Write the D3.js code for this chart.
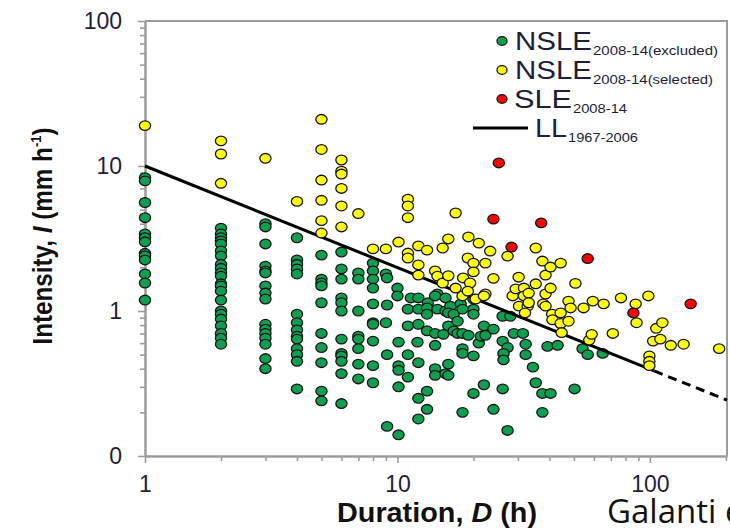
<!DOCTYPE html>
<html>
<head>
<meta charset="utf-8">
<script src="https://cdn.jsdelivr.net/npm/d3@7"></script>
<style>
  body { margin: 0; background: #fff; }
  text { font-family: "Liberation Sans", Arial, sans-serif; }
</style>
</head>
<body>
<svg id="chart" width="730" height="530"></svg>
<script>
// ---- data: [duration D (h), intensity I (mm/h)] ----
const excluded = [
  [1,8.3],[1,7.9],[1,5.6],[1,4.4],[1,3.4],[1,3.2],[1,3.0],[1,2.5],[1,2.4],[1,2.25],[1,1.8],[1,1.56],[1,1.19],
  [2,3.73],[2,3.4],[2,3.2],[2,3.04],[2,2.9],[2,2.6],[2,2.4],[2,2.1],[2,1.97],[2,1.83],[2,1.74],[2,1.54],[2,1.49],[2,1.37],[2,1.19],[2,1.0],[2,0.95],[2,0.88],[2,0.79],[2,0.7],[2,0.65],[2,0.59],
  [3,4.0],[3,3.8],[3,2.9],[3,2.04],[3,1.89],[3,1.83],[3,1.49],[3,1.33],[3,1.21],[3,0.81],[3,0.75],[3,0.7],[3,0.65],[3,0.59],[3,0.47],[3,0.4],
  [4,3.2],[4,2.25],[4,2.1],[4,1.95],[4,1.8],[4,0.95],[4,0.83],[4,0.74],[4,0.67],[4,0.64],[4,0.55],[4,0.5],[4,0.45],[4,0.29],
  [5,2.43],[5,1.66],[5,1.56],[5,1.49],[5,1.14],[5,0.7],[5,0.56],[5,0.44],[5,0.28],[5,0.24],
  [6,2.55],[6,1.95],[6,1.66],[6,1.23],[6,1.14],[6,1.0],[6,0.64],[6,0.51],[6,0.49],[6,0.45],[6,0.37],[6,0.23],
  [7,1.83],[7,1.66],[7,1.0],[7,0.67],[7,0.64],[7,0.55],[7,0.43],[7,0.34],
  [8,2.14],[8,1.89],[8,1.66],[8,1.44],[8,1.12],[8,0.83],[8,0.81],[8,0.62],[8,0.42],[8,0.32],
  [9,1.8],[9.1,1.69],[9.1,1.1],[9,0.83],[9.1,0.5],[9.1,0.16],
  [10,1.44],[10,1.27],[10.1,0.61],[10.1,0.42],[10.1,0.39],[10.1,0.3],[10.1,0.14],
  [11.3,1.23],[11,1.03],[11,0.79],[11,0.5],[11,0.35],
  [12.1,1.23],[12.1,1.03],[12.1,0.81],[12,0.61],[12.1,0.44],[12.1,0.25],[12.1,0.18],
  [13.2,1.14],[13.1,1.05],[13.1,0.95],[13.1,0.73],[13.1,0.28],[13.1,0.21],
  [14.4,1.31],[14.1,1.27],[14.4,1.03],[14.1,0.7],[14.1,0.58],[14.1,0.4],[14.1,0.36],
  [15.5,1.23],[15.5,1.0],[15.2,0.69],[15.5,0.37],
  [16.2,1.08],[15.9,0.97],[15.9,0.79],[15.9,0.43],[15.9,0.36],[16.7,0.95],[16.7,0.73],
  [17.8,1.12],[17.3,0.85],[17.3,0.7],
  [18.1,1.03],[18.1,0.7],[18.1,0.55],[18.1,0.51],[18.1,0.2],
  [19.1,0.68],[20,1.21],[20,1.03],[20,0.95],[20,0.49],[20,0.27],
  [21,0.6],[21.4,0.67],[22,0.79],[22.3,0.68],[22,0.31],[24,0.75],[24,0.21],
  [26.1,0.92],[28,0.92],[26.1,0.62],[27.3,0.56],[26.3,0.51],[26.3,0.46],[26.1,0.29],[27.3,0.15],[28.9,0.7],[31.4,0.7],[32.2,0.59],[32.2,0.5],
  [34.4,0.41],[35.3,0.32],[37.5,0.27],[40.4,0.27],[37.5,0.2],[39.3,0.57],[43.1,0.58],[50.3,0.29],[54.1,0.55],[56.7,0.5],[65,0.51]
];

const selected = [
  [1,19],[2,14.9],[2,12.1],[2,7.6],[3,11.3],[4,5.7],
  [5,21],[5,13],[5,8.0],[5,5.8],[5,4.2],[5,3.45],
  [6,11.0],[6,9.2],[6,8.8],[6,7.0],[6,5.3],[6,3.8],[7,4.7],
  [8,2.68],[9,2.68],[10.1,2.99],
  [11,5.9],[11,5.3],[11,4.4],[11,2.51],[11,2.32],
  [12.1,2.81],[12.1,2.08],[12.1,1.77],[13.1,2.63],[14.1,1.89],[14.4,1.74],
  [15.1,2.72],[15.1,1.56],[15.9,3.14],[15.9,1.75],[17,4.74],[17,1.44],[18.2,1.69],[18.1,1.27],
  [19.1,3.24],[19,2.32],[19.4,1.56],[19,1.37],[20,2.14],[20,1.86],[20.4,1.21],[21,2.94],
  [22.3,2.14],[22.3,1.31],[22,1.27],[23.3,2.59],[24,1.68],[27.3,2.39],
  [28.6,1.27],[29.4,1.42],[30.2,1.71],[30.3,1.08],[31.7,1.44],[31.7,1.27],[32.8,1.08],[33.1,1.33],[33.1,1.14],[32,0.97],
  [35.3,2.72],[35.3,1.54],[37.5,2.21],[37.8,1.12],[38.6,1.77],[38.6,1.31],[38.6,1.08],[40.4,2.01],[40.4,1.44],
  [41,0.95],[44.3,0.97],[41.1,0.87],[44.3,0.82],[47.6,0.85],[44.7,0.71],[44.3,2.14],
  [47.6,1.17],[48.5,1.05],[50.7,1.55],[54.6,1.05],[57.5,0.63],[58.8,0.69],[59.4,1.17],[65.6,1.12],[71.3,0.7],[76.8,1.23],
  [87.8,1.12],[88.5,0.83],[98.6,1.27],[99.5,0.49],[99.5,0.45],[99.5,0.42],[103,0.62],[106,0.76],[110,0.64],[112,0.83],[121,0.58],[136,0.59],[188,0.55]
];

const sle = [[25.2,10.5],[24,4.3],[37.1,4.05],[28.3,2.76],[56.7,2.3],[86,0.97],[145,1.12]];

// LL1967-2006 threshold, solid over its calibration range then dashed
const llSolid = [[1,10],[104,0.386]];
const llDashed = [[104,0.386],[202,0.243]];

const xTicks = [1, 10, 100];
const xTickLabels = ["1", "10", "100"];
const yTicks = [0.1, 1, 10, 100];
const yTickLabels = ["0", "1", "10", "100"];

const legendNames = ["NSLE", "NSLE", "SLE", "LL"];
const legendSubs = ["2008-14(excluded)", "2008-14(selected)", "2008-14", "1967-2006"];
const legendColors = ["#0aa04f", "#ffff00", "#ff0000", null];

// ---- layout ----
const svg = d3.select("#chart");
const plotL = 145, plotR = 727, plotT = 21, plotB = 456;

const x = d3.scaleLog().domain([1, 202]).range([plotL, plotR]);
const y = d3.scaleLog().domain([0.1, 100]).range([plotB, plotT]);

const axisGrey = "#9c9c9c";
const labelInk = "#1e1e3a";

// frame (top + right)
svg.append("path")
  .attr("d", "M" + plotL + "," + plotT + "H" + plotR + "V" + plotB)
  .attr("fill", "none").attr("stroke", axisGrey).attr("stroke-width", 2);

// minor ticks
const xMinor = x.ticks().filter(t => !xTicks.includes(t));
const yMinor = y.ticks().filter(t => !yTicks.includes(t));

function styleAxis(g) {
  g.select(".domain").attr("stroke", axisGrey).attr("stroke-width", 2);
  g.selectAll(".tick line").attr("stroke", axisGrey).attr("stroke-width", 1.6);
  g.selectAll(".tick text").attr("fill", labelInk)
    .style("font-size", "23px").style("font-family", '"Liberation Sans", Arial, sans-serif');
}

svg.append("g").attr("transform", "translate(0," + plotB + ")")
  .call(d3.axisBottom(x).tickValues(xMinor).tickSize(5).tickSizeOuter(0).tickFormat(""))
  .call(styleAxis);
svg.append("g").attr("transform", "translate(0," + plotB + ")")
  .call(d3.axisBottom(x).tickValues(xTicks).tickSize(7).tickSizeOuter(0).tickPadding(13)
    .tickFormat((d, i) => xTickLabels[i]))
  .call(styleAxis);

svg.append("g").attr("transform", "translate(" + plotL + ",0)")
  .call(d3.axisLeft(y).tickValues(yMinor).tickSize(5).tickSizeOuter(0).tickFormat(""))
  .call(styleAxis);
svg.append("g").attr("transform", "translate(" + plotL + ",0)")
  .call(d3.axisLeft(y).tickValues(yTicks).tickSize(7).tickSizeOuter(0).tickPadding(16)
    .tickFormat((d, i) => yTickLabels[i]))
  .call(styleAxis);

// points
function dots(data, fill) {
  svg.append("g").selectAll("ellipse").data(data).join("ellipse")
    .attr("cx", d => x(d[0])).attr("cy", d => y(d[1]))
    .attr("rx", 5.6).attr("ry", 4.8)
    .attr("fill", fill).attr("stroke", "#161616").attr("stroke-width", 1.3);
}
dots(excluded, legendColors[0]);

// threshold line
const line = d3.line().x(d => x(d[0])).y(d => y(d[1]));
svg.append("path").attr("d", line(llSolid))
  .attr("fill", "none").attr("stroke", "#000").attr("stroke-width", 3);
svg.append("path").attr("d", line(llDashed))
  .attr("fill", "none").attr("stroke", "#000").attr("stroke-width", 3)
  .attr("stroke-dasharray", "9,6");

dots(selected, legendColors[1]);
dots(sle, legendColors[2]);

// legend
const legMainX = [515, 515, 514, 535];
const legMainW = [77, 77, 58, 32];
const legSubW = [125, 120, 54, 70];
legendNames.forEach((name, i) => {
  const cy = 41 + i * 29;
  if (legendColors[i]) {
    svg.append("ellipse").attr("cx", 502).attr("cy", cy).attr("rx", 5).attr("ry", 4.3)
      .attr("fill", legendColors[i]).attr("stroke", "#161616").attr("stroke-width", 1.3);
  } else {
    svg.append("line").attr("x1", 473).attr("x2", 528).attr("y1", cy).attr("y2", cy)
      .attr("stroke", "#000").attr("stroke-width", 3);
  }
  svg.append("text").attr("x", legMainX[i]).attr("y", cy + 9)
    .attr("fill", labelInk).style("font-size", "25px")
    .attr("textLength", legMainW[i]).attr("lengthAdjust", "spacingAndGlyphs")
    .text(name);
  svg.append("text").attr("x", legMainX[i] + legMainW[i] + 1).attr("y", cy + 14)
    .attr("fill", labelInk).style("font-size", "12px")
    .attr("textLength", legSubW[i]).attr("lengthAdjust", "spacingAndGlyphs")
    .text(legendSubs[i]);
});

// axis titles
const yTitle = svg.append("text")
  .attr("transform", "translate(52,236) rotate(-90)")
  .attr("text-anchor", "middle").attr("fill", "#111")
  .style("font-size", "28px").style("font-weight", "bold")
  .attr("textLength", 217).attr("lengthAdjust", "spacingAndGlyphs");
yTitle.append("tspan").text("Intensity, ");
yTitle.append("tspan").style("font-style", "italic").text("I");
yTitle.append("tspan").text(" (mm h");
yTitle.append("tspan").attr("dy", -11).style("font-size", "15px").text("-1");
yTitle.append("tspan").attr("dy", 11).text(")");

const xTitle = svg.append("text")
  .attr("x", 337).attr("y", 522).attr("fill", "#111")
  .style("font-size", "27px").style("font-weight", "bold")
  .attr("textLength", 200).attr("lengthAdjust", "spacingAndGlyphs");
xTitle.append("tspan").text("Duration, ");
xTitle.append("tspan").style("font-style", "italic").text("D");
xTitle.append("tspan").text(" (h)");

// source caption, runs off the right edge as in the original slide
svg.append("text").attr("x", 607).attr("y", 523)
  .attr("fill", "#111").style("font-family", '"Open Sans", sans-serif').style("font-size", "33px")
  .text("Galanti et al. (2015)");
</script>
</body>
</html>
